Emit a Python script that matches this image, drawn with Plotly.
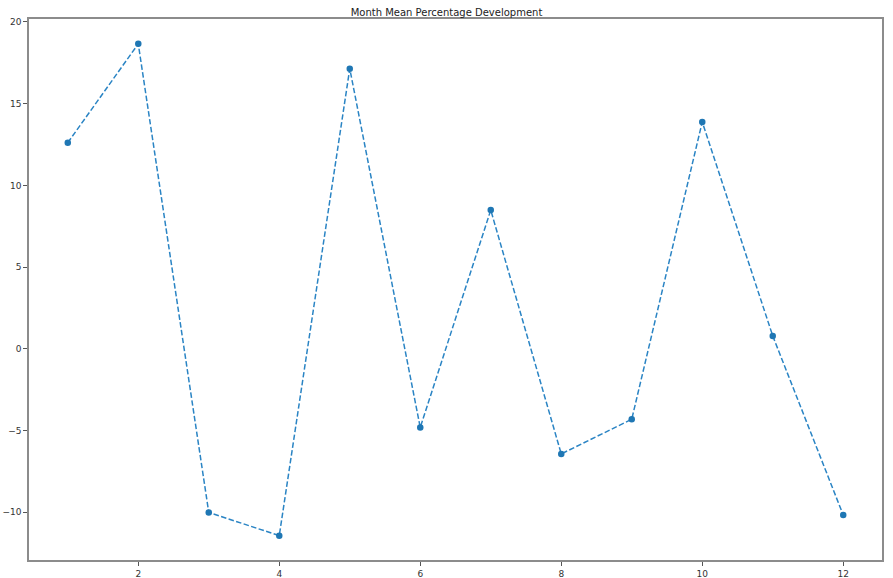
import plotly.graph_objects as go

months = [1, 2, 3, 4, 5, 6, 7, 8, 9, 10, 11, 12]
mean_pct_dev = [12.61, 18.66, -10.01, -11.43, 17.14, -4.81, 8.49, -6.43, -4.31, 13.88, 0.79, -10.17]
x_ticks = [2, 4, 6, 8, 10, 12]
y_ticks = [-10, -5, 0, 5, 10, 15, 20]

fig = go.Figure()
fig.add_trace(go.Scatter(
    x=months, y=mean_pct_dev, mode="lines+markers",
    line=dict(color="#2a84c4", width=1.5, dash="5.5px,2.4px"),
    marker=dict(color="#1f77b4", size=6.5),
    showlegend=False,
))

axis_common = dict(
    showgrid=False, zeroline=False, showline=True, mirror=True,
    linecolor="#8c8c8c", linewidth=1.5, automargin=False,
    ticks="outside", ticklen=4, tickwidth=1, tickcolor="#555",
    tickfont=dict(family="DejaVu Sans", size=9, color="#333"),
)

fig.update_layout(
    width=893, height=578,
    margin=dict(l=29, r=11, t=19, b=18),
    paper_bgcolor="white", plot_bgcolor="white",
    title=dict(text="Month Mean Percentage Development", x=0.5, xanchor="center",
               y=1 - 12 / 578, yanchor="middle", automargin=False,
               font=dict(family="DejaVu Sans", size=10, color="#222")),
    xaxis=dict(range=[0.45, 12.55], tickvals=x_ticks, **axis_common),
    yaxis=dict(range=[-12.92, 20.18], tickvals=y_ticks, **axis_common),
)

fig.write_html("out.html", config={"displayModeBar": False},
               post_script="document.body.style.margin='0';document.body.style.overflow='hidden';")
